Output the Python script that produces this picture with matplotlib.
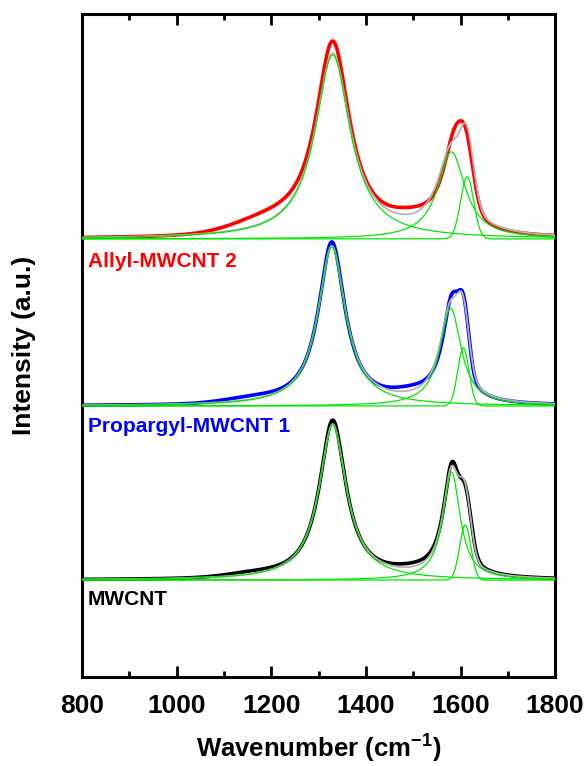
import numpy as np
import matplotlib
matplotlib.use("Agg")
import matplotlib.pyplot as plt
from matplotlib.ticker import MultipleLocator

plt.rcParams['font.family'] = ['Liberation Sans', 'DejaVu Sans']
plt.rcParams['font.weight'] = 'bold'
plt.rcParams['mathtext.fontset'] = 'custom'
plt.rcParams['mathtext.rm'] = 'Liberation Sans:bold'
plt.rcParams['mathtext.default'] = 'rm'

#%% band parameters (heights in plot units above each baseline)

samples = ['MWCNT', 'Propargyl-MWCNT 1', 'Allyl-MWCNT 2']
colors = ['black', '#0000ff', '#ff0000']
offsets = [97, 271, 438]

# fitted components: D (Lorentz), G (Lorentz), D' (Gauss)
fit_D_pos = [1330, 1328, 1330]
fit_D_hwhm = [35, 35, 45]
fit_D_height = [155, 159, 184]
fit_G_pos = [1581, 1579, 1581]
fit_G_hwhm = [22, 27, 35]
fit_G_height = [108, 98, 87]
fit_Dp_pos = [1610, 1606, 1614]
fit_Dp_sigma = [12, 12, 14]
fit_Dp_height = [55, 58, 62]

# measured spectra: same bands plus the weak D* (~1180) and D'' (~1500) bands
data_D_pos = [1330, 1328, 1330]
data_D_hwhm = [34, 34, 44]
data_D_height = [159, 163, 195]
data_G_pos = [1582, 1582, 1586]
data_G_hwhm = [22, 24, 30]
data_G_height = [112, 104, 90]
data_Dp_pos = [1611, 1607, 1612]
data_Dp_sigma = [12, 11, 15]
data_Dp_height = [50, 57, 52]
data_Dstar_pos = [1160, 1160, 1190]
data_Dstar_sigma = [55, 60, 70]
data_Dstar_height = [3, 4, 11]
data_Dpp_pos = [1500, 1500, 1500]
data_Dpp_sigma = [45, 45, 50]
data_Dpp_height = [4, 7, 10]

x_min, x_max = 800, 1800


def lorentz(x, c, g, h):
    return h * g**2 / ((x - c)**2 + g**2)


def gauss(x, c, s, h):
    return h * np.exp(-0.5 * ((x - c) / s)**2)


wn = np.arange(x_min, x_max + 1, 1.0)

fig = plt.figure(figsize=(5.85, 7.66), dpi=100)
ax = fig.add_axes([0.140, 0.116, 0.809, 0.866])

for i in range(len(samples)):
    off = offsets[i]
    # measured spectrum
    spec = (lorentz(wn, data_D_pos[i], data_D_hwhm[i], data_D_height[i])
            + lorentz(wn, data_G_pos[i], data_G_hwhm[i], data_G_height[i])
            + gauss(wn, data_Dp_pos[i], data_Dp_sigma[i], data_Dp_height[i])
            + gauss(wn, data_Dstar_pos[i], data_Dstar_sigma[i], data_Dstar_height[i])
            + gauss(wn, data_Dpp_pos[i], data_Dpp_sigma[i], data_Dpp_height[i]))
    ax.plot(wn, spec + off, color=colors[i], lw=2.6, zorder=2)

    # fit components
    cD = lorentz(wn, fit_D_pos[i], fit_D_hwhm[i], fit_D_height[i])
    cG = lorentz(wn, fit_G_pos[i], fit_G_hwhm[i], fit_G_height[i])
    cDp = gauss(wn, fit_Dp_pos[i], fit_Dp_sigma[i], fit_Dp_height[i])
    ax.plot(wn, cD + cG + cDp + off, color='#b4b4b4', lw=1.3, zorder=3)
    for comp in (cD, cG, cDp):
        ax.plot(wn, comp + off, color='#00e600', lw=0.9, zorder=4)

# sample names
ax.text(0.013, 0.618, 'Allyl-MWCNT 2', color='#ff0000', fontsize=15,
        fontweight='bold', transform=ax.transAxes, va='baseline')
ax.text(0.013, 0.370, 'Propargyl-MWCNT 1', color='#0000ff', fontsize=15,
        fontweight='bold', transform=ax.transAxes, va='baseline')
ax.text(0.013, 0.109, 'MWCNT', color='black', fontsize=15,
        fontweight='bold', transform=ax.transAxes, va='baseline')

ax.set_xlim(x_min, x_max)
ax.set_ylim(0, 663)
ax.set_yticks([])
ax.xaxis.set_major_locator(MultipleLocator(200))
ax.xaxis.set_minor_locator(MultipleLocator(100))
ax.tick_params(axis='x', which='both', direction='in', top=True,
               labelsize=19, pad=12)
ax.tick_params(axis='x', which='major', length=8, width=2)
ax.tick_params(axis='x', which='minor', length=4, width=2)
for sp in ax.spines.values():
    sp.set_linewidth(2.2)

ax.set_xlabel('Wavenumber (cm$^{-1}$)', fontsize=18.5, fontweight='bold', labelpad=11)
ax.set_ylabel('Intensity (a.u.)', fontsize=19, fontweight='bold', labelpad=33)

fig.savefig('out.png', dpi=100)
